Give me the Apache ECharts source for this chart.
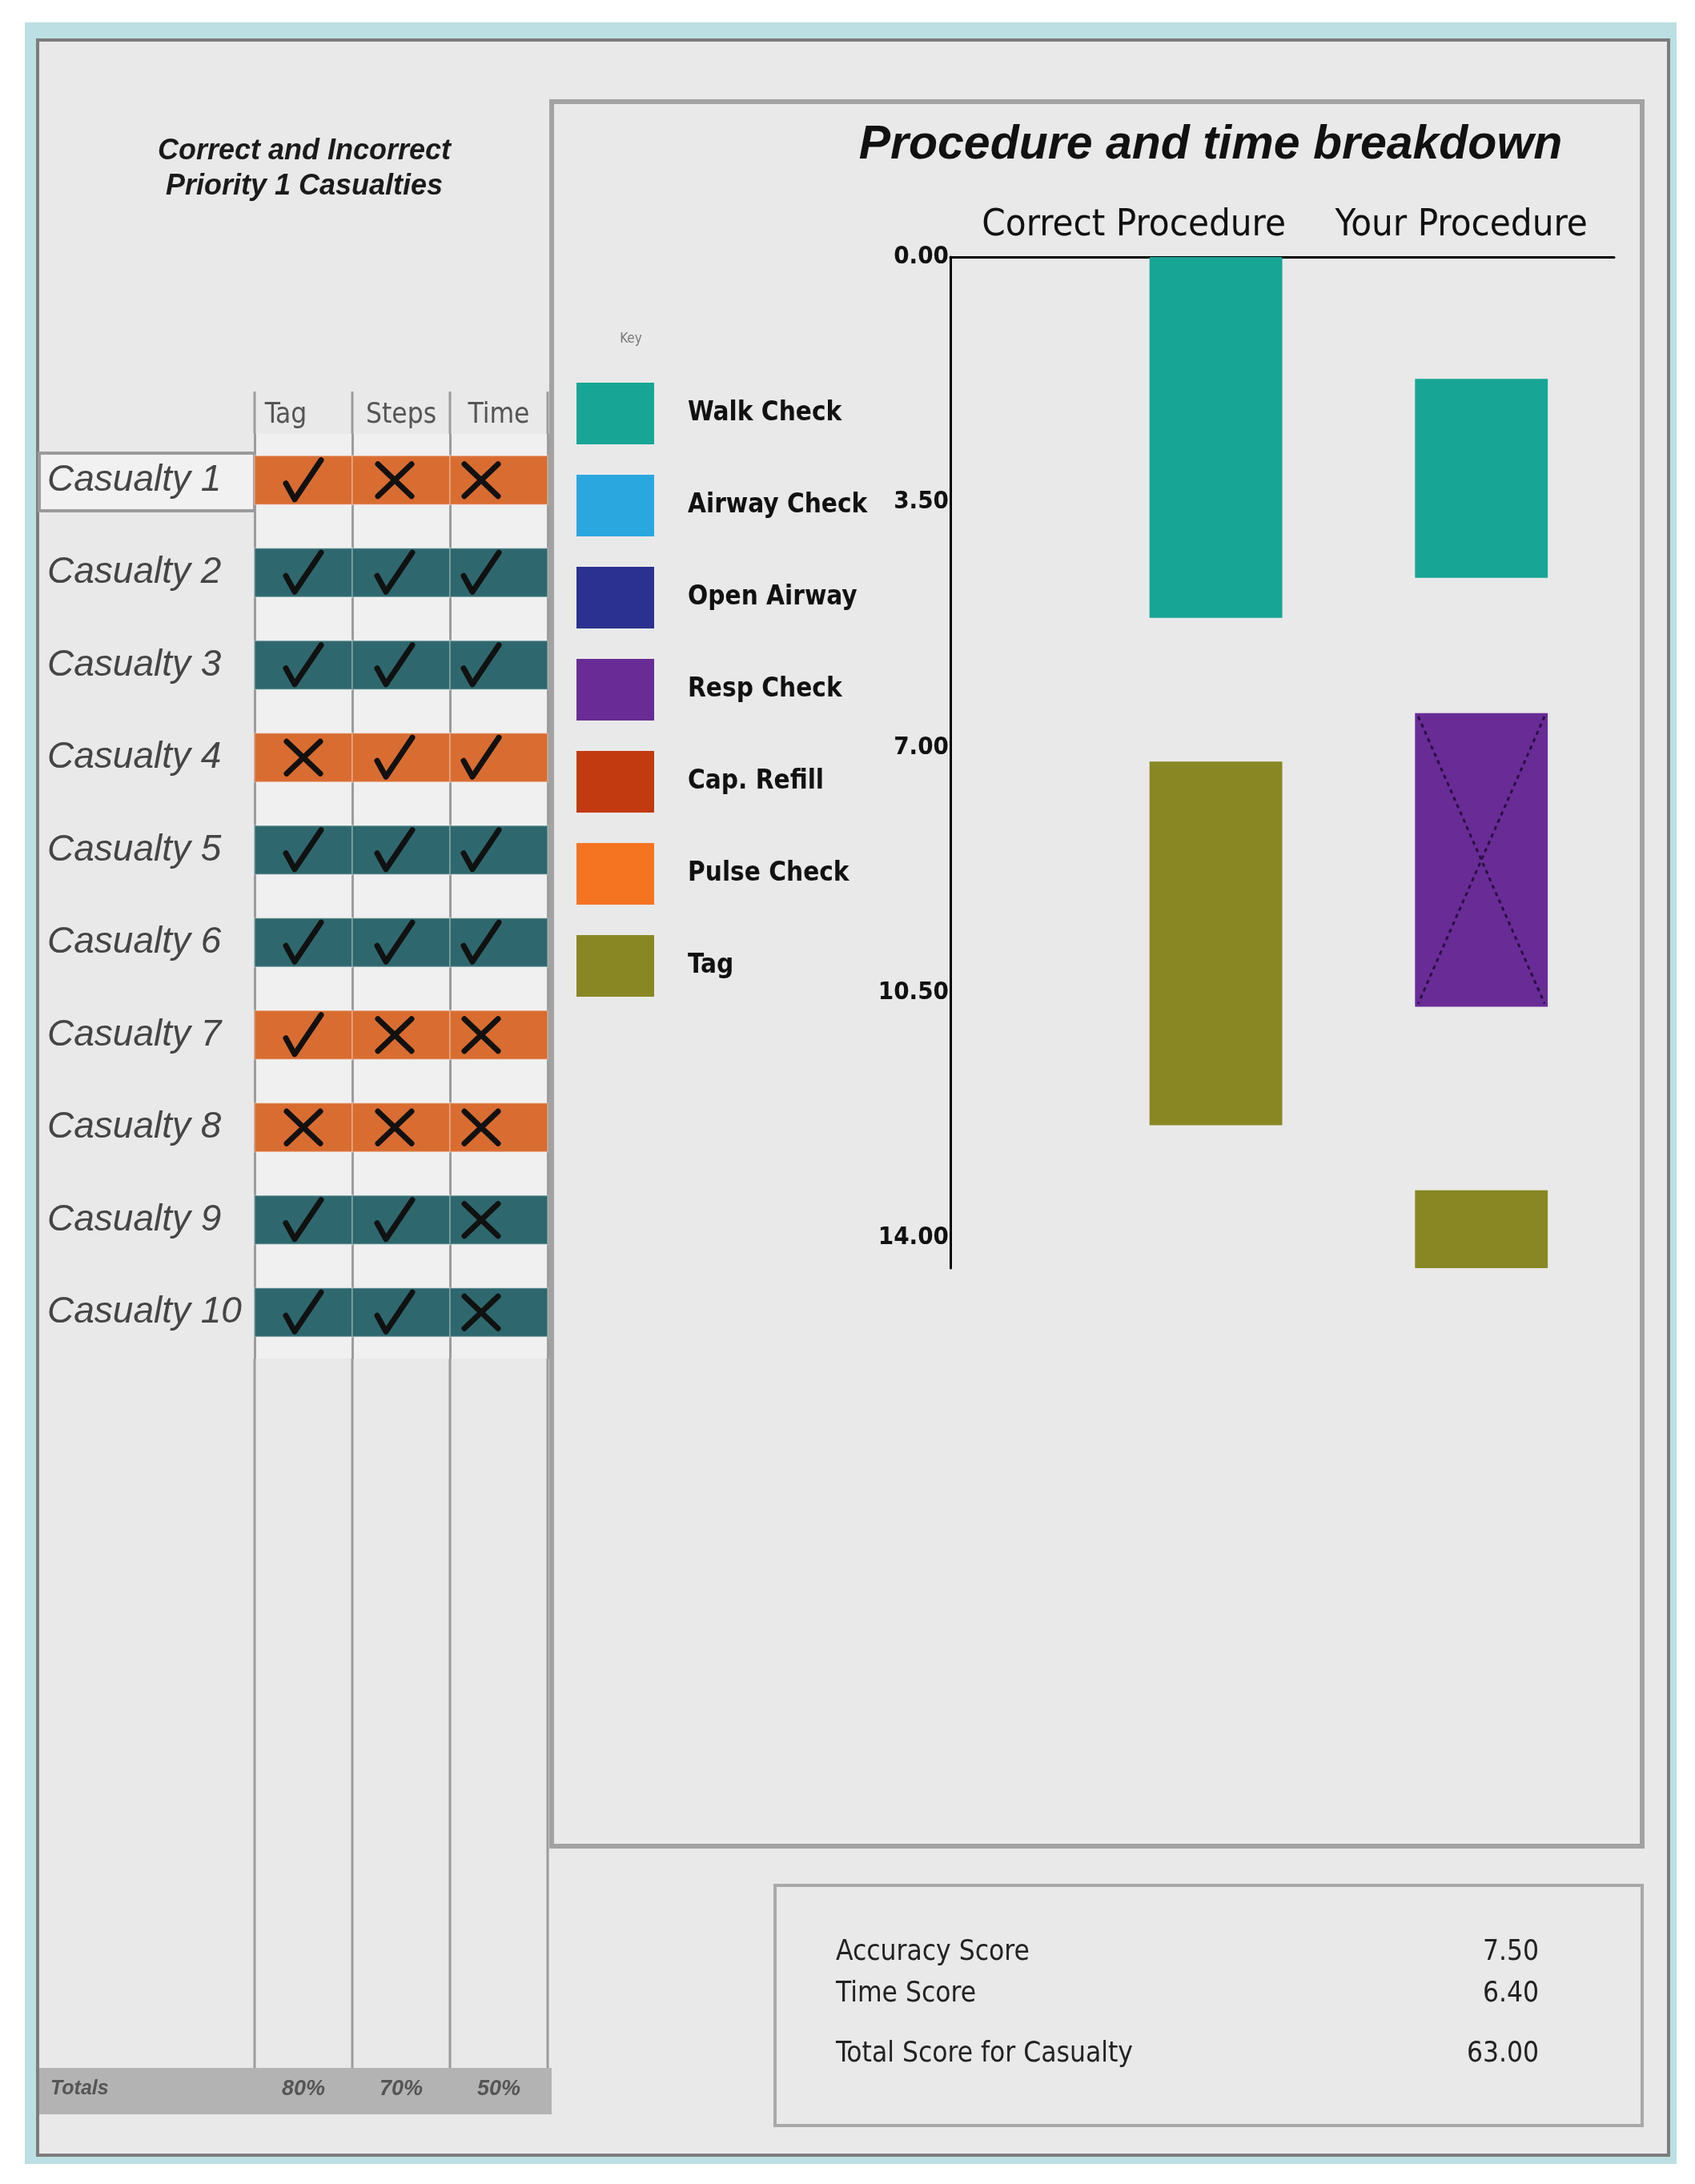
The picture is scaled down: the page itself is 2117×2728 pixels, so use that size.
<!DOCTYPE html>
<html><head><meta charset="utf-8">
<script src="https://cdn.jsdelivr.net/npm/echarts@6/dist/echarts.min.js"></script>
<style>html,body{margin:0;padding:0;background:#fff}#c{width:2117px;height:2728px}</style>
</head><body><div id="c"></div>
<script>
// ---------- data ----------
const casualties = ['Casualty 1','Casualty 2','Casualty 3','Casualty 4','Casualty 5','Casualty 6','Casualty 7','Casualty 8','Casualty 9','Casualty 10'];
const checkColumns = ['Tag','Steps','Time'];
const tagOk   = [1,1,1,0,1,1,1,0,1,1];
const stepsOk = [0,1,1,1,1,1,0,0,1,1];
const timeOk  = [0,1,1,1,1,1,0,0,0,0];
const rowStatus = ['bad','good','good','bad','good','good','bad','bad','good','good'];
const totals = ['80%','70%','50%'];

const procedures = ['Correct Procedure','Your Procedure'];
const stepNames = ['Walk Check','Airway Check','Open Airway','Resp Check','Cap. Refill','Pulse Check','Tag'];
const stepColors = ['#17a596','#2ba7e0','#2b3190','#692c96','#c13a10','#f47422','#898723'];
// Correct procedure (time in minutes)
const correctSteps = ['Walk Check','Tag'];
const correctStart = [0.00, 7.20];
const correctEnd   = [5.15, 12.39];
// Your procedure
const yourSteps = ['Walk Check','Resp Check','Tag'];
const yourStart = [1.74, 6.51, 13.32];
const yourEnd   = [4.58, 10.70, 14.43];
const yourWrong = [0, 1, 0];
const timeInterval = 3.5;

const scoreNames  = ['Accuracy Score','Time Score','Total Score for Casualty'];
const scoreValues = [7.50, 6.40, 63.00];

// ---------- layout ----------
const tbl = {left:318, top:542, width:366, height:1155};
const chart = {left:1187, top:321, width:829, height:1263};
const cellColors = {bad:'#d96c31', good:'#2e686e'};
const labelShift = [205, 50];
const markShift = [0, -8, -22];
const headShift = [44, 0, 0];

const okArrays = [tagOk, stepsOk, timeOk];
const tableData = [];
casualties.forEach((c, r) => {
  checkColumns.forEach((col, ci) => {
    tableData.push([ci, r, okArrays[ci][r], rowStatus[r] === 'bad' ? 1 : 0]);
  });
});

const allBars = [];
correctSteps.forEach((s,i)=>allBars.push({step:s, p:1, s:correctStart[i], e:correctEnd[i], w:0}));
yourSteps.forEach((s,i)=>allBars.push({step:s, p:2, s:yourStart[i], e:yourEnd[i], w:yourWrong[i]}));
const maxTime = Math.max(...correctEnd, ...yourEnd);

const condensed = "'DejaVu Sans Condensed', 'DejaVu Sans', sans-serif";
const arial = "'Liberation Sans', Arial, sans-serif";

const stepSeries = stepNames.map((name, si) => ({
  type:'custom', name, xAxisIndex:2, yAxisIndex:1,
  itemStyle:{color:stepColors[si]},
  encode:{x:0, y:[1,2]},
  data: allBars.filter(b=>b.step===name).map(b=>[b.p, b.s, b.e, b.w]),
  renderItem:(params, api) => {
    const x = api.value(0);
    const p0 = api.coord([x, api.value(1)]);
    const p1 = api.coord([x, api.value(2)]);
    const w = api.size([0.5, 0])[0];
    const x0 = p0[0]-w/2, y0 = p0[1], h = p1[1]-p0[1];
    const children = [{type:'rect', shape:{x:x0, y:y0, width:w, height:h}, style:{fill:api.visual('color')}}];
    if (api.value(3)) {
      const ls = {stroke:'#2a0f45', lineWidth:3, lineDash:[5,5]};
      children.push({type:'line', shape:{x1:x0+4, y1:y0+4, x2:x0+w-4, y2:y0+h-4}, style:ls});
      children.push({type:'line', shape:{x1:x0+w-4, y1:y0+4, x2:x0+4, y2:y0+h-4}, style:ls});
    }
    return {type:'group', children};
  }
}));

const graphics = [
  {type:'rect', z:-10, shape:{x:31,y:28,width:2063,height:2675}, style:{fill:'#bcdfe3'}},
  {type:'rect', z:-9, shape:{x:47,y:50,width:2037,height:2642}, style:{fill:'#e9e9e9', stroke:'#7c7c7c', lineWidth:4}},
  {type:'rect', z:-8, shape:{x:689,y:127,width:1362,height:2179}, style:{fill:'#e9e9e9', stroke:'#a2a2a2', lineWidth:6}},
  {type:'rect', z:-8, shape:{x:968,y:2355,width:1083,height:300}, style:{fill:'#e9e9e9', stroke:'#a9a9a9', lineWidth:4}},
  {type:'rect', z:-8, shape:{x:49,y:2583,width:640,height:58}, style:{fill:'#b3b3b3'}},
  {type:'rect', z:-7, shape:{x:49,y:566,width:269,height:72}, style:{fill:'#f1f1f1', stroke:'#9a9a9a', lineWidth:4}},
  {type:'text', z:50, x:380, y:211, style:{text:'Correct and Incorrect\nPriority 1 Casualties', fontSize:36, lineHeight:44, fontWeight:'bold', fontStyle:'italic', fontFamily:arial, fill:'#1a1a1a', align:'center', verticalAlign:'middle'}},
  {type:'text', z:50, x:1512, y:182, style:{text:'Procedure and time breakdown', fontSize:59, fontWeight:'bold', fontStyle:'italic', fontFamily:arial, fill:'#111', align:'center', verticalAlign:'middle'}},
  {type:'text', z:50, x:788, y:424, style:{text:'Key', fontSize:17, fontFamily:condensed, fill:'#777', align:'center', verticalAlign:'middle'}},
  {type:'text', z:50, x:63, y:2609, style:{text:'Totals', fontSize:25, fontWeight:'bold', fontStyle:'italic', fontFamily:arial, fill:'#555', align:'left', verticalAlign:'middle'}}
];
// column line extensions above and below the table grid
for (let i=0;i<=checkColumns.length;i++){
  const x = tbl.left + i*tbl.width/checkColumns.length;
  graphics.push({type:'line', z:-6, shape:{x1:x, y1:489, x2:x, y2:tbl.top}, style:{stroke:'#9c9c9c', lineWidth:3}});
  graphics.push({type:'line', z:-6, shape:{x1:x, y1:tbl.top+tbl.height, x2:x, y2:2583}, style:{stroke:'#9c9c9c', lineWidth:3}});
}
const scoreY = [2439, 2491, 2566];
scoreNames.forEach((n,i)=>{
  graphics.push({type:'text', z:50, x:1044, y:scoreY[i], style:{text:n, fontSize:35, fontFamily:condensed, fill:'#222', align:'left', verticalAlign:'middle'}});
  graphics.push({type:'text', z:50, x:1922, y:scoreY[i], style:{text:scoreValues[i].toFixed(2), fontSize:35, fontFamily:condensed, fill:'#222', align:'right', verticalAlign:'middle'}});
});

const rich = {};
procedures.forEach((p,i)=>{ rich['p'+i] = {padding:[0,labelShift[i],0,0], fontSize:47, fontFamily:condensed, color:'#111'}; });
const headRich = {};
checkColumns.forEach((c,i)=>{ headRich['h'+i] = {padding:[0,headShift[i],0,0], fontSize:35, fontFamily:condensed, color:'#555'}; });

const option = {
  backgroundColor:'#ffffff',
  animation:false,
  graphic:{elements:graphics},
  legend:{
    data:stepNames, orient:'vertical', left:715, top:473,
    itemWidth:97, itemHeight:77, itemGap:38, icon:'rect', selectedMode:false,
    textStyle:{fontSize:33, fontWeight:'bold', fontFamily:condensed, color:'#111', padding:[0,0,0,37]}
  },
  grid:[
    {left:tbl.left, top:tbl.top, width:tbl.width, height:tbl.height, show:true, backgroundColor:'#f0f0f0', borderWidth:0, outerBoundsMode:'none'},
    {left:chart.left, top:chart.top, width:chart.width, height:chart.height, outerBoundsMode:'none'}
  ],
  xAxis:[
    {gridIndex:0, type:'category', data:checkColumns, position:'top',
     axisLine:{show:false}, axisTick:{show:false},
     splitLine:{show:true, lineStyle:{color:'#9c9c9c', width:3}},
     axisLabel:{margin:6, formatter:(v, i)=>'{h'+i+'|'+v+'}', rich:headRich}},
    {gridIndex:0, type:'category', data:totals, position:'bottom', offset:891,
     axisLine:{show:false}, axisTick:{show:false}, splitLine:{show:false},
     axisLabel:{fontSize:27, fontWeight:'bold', fontStyle:'italic', fontFamily:arial, color:'#555', margin:8}},
    {gridIndex:1, type:'value', min:0, max:2.5, interval:1, position:'top',
     axisLine:{show:true, lineStyle:{color:'#000', width:3}}, axisTick:{show:false}, splitLine:{show:false},
     axisLabel:{margin:16, showMaxLabel:false, formatter:v => (v>=1 && v<=procedures.length && Number.isInteger(v)) ? '{p'+(v-1)+'|'+procedures[v-1]+'}' : '', rich}}
  ],
  yAxis:[
    {gridIndex:0, type:'category', data:casualties, inverse:true,
     axisLine:{show:false}, axisTick:{show:false}, splitLine:{show:false},
     axisLabel:{align:'left', margin:259, fontSize:46, fontStyle:'italic', fontFamily:arial, color:'#454545'}},
    {gridIndex:1, type:'value', inverse:true, min:0, max:maxTime, interval:timeInterval,
     axisLine:{show:true, lineStyle:{color:'#000', width:3}}, axisTick:{show:false}, splitLine:{show:false},
     axisLabel:{margin:2, showMaxLabel:false, fontSize:31, fontWeight:'bold', fontFamily:condensed, color:'#111', formatter:v=>v.toFixed(2)}}
  ],
  series:[
    {type:'custom', name:'checks', xAxisIndex:0, yAxisIndex:0, data:tableData,
     renderItem:(params, api)=>{
       const ci = api.value(0);
       const p = api.coord([ci, api.value(1)]);
       const s = api.size([1,1]);
       const w = s[0], h = s[1]*0.53;
       const fill = api.value(3) ? cellColors.bad : cellColors.good;
       const cx = p[0] + markShift[ci], cy = p[1];
       const ms = {stroke:'#111', lineWidth:7, lineCap:'round', lineJoin:'round', fill:null};
       const mark = api.value(2)
         ? [{type:'polyline', shape:{points:[[cx-22,cy+4],[cx-11,cy+24],[cx+22,cy-25]]}, style:ms}]
         : [{type:'line', shape:{x1:cx-21,y1:cy-20,x2:cx+21,y2:cy+20}, style:ms},
            {type:'line', shape:{x1:cx+21,y1:cy-20,x2:cx-21,y2:cy+20}, style:ms}];
       return {type:'group', children:[
         {type:'rect', shape:{x:p[0]-w/2, y:p[1]-h/2, width:w, height:h}, style:{fill, stroke:'rgba(255,255,255,0.25)', lineWidth:2}},
         ...mark
       ]};
     }},
    ...stepSeries
  ]
};
const ch = echarts.init(document.getElementById('c'), null, {renderer:'canvas'});
ch.setOption(option);
</script></body></html>
